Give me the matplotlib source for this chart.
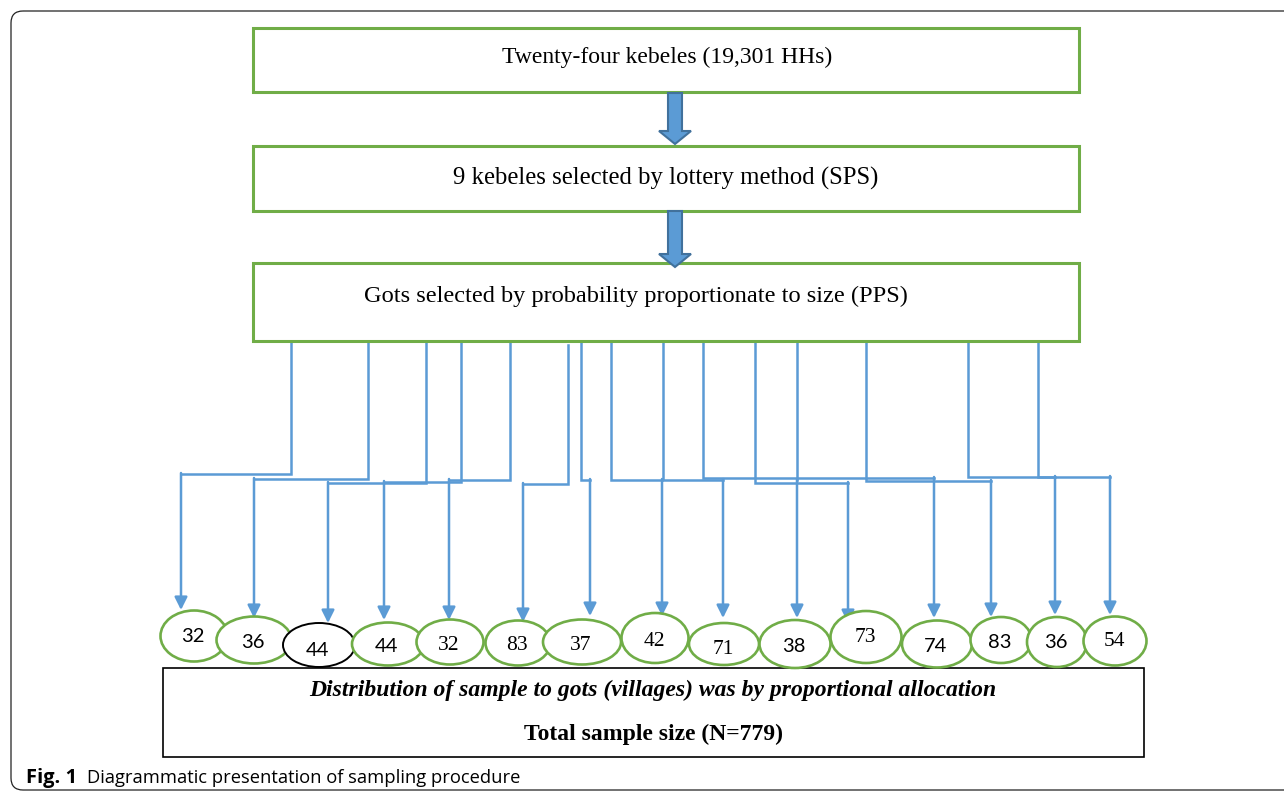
import matplotlib.pyplot as plt
from matplotlib.patches import Rectangle, Ellipse, FancyBboxPatch, Polygon

# flow steps
steps = ['Twenty-four kebeles (19,301 HHs)',
         '9 kebeles selected by lottery method (SPS)',
         'Gots selected by probability proportionate to size (PPS)']
# sample allocated to each got
samples = [32, 36, 44, 44, 32, 83, 37, 42, 71, 38, 73, 74, 83, 36, 54]
sans_label = [1, 1, 1, 1, 0, 0, 0, 0, 0, 1, 0, 1, 1, 1, 0]
bottom_lines = ['Distribution of sample to gots (villages) was by proportional allocation',
                'Total sample size (N=779)']
caption_bold = 'Fig. 1'
caption_text = 'Diagrammatic presentation of sampling procedure'

# layout (pixel units)
cx = [194, 254, 319, 388, 450, 518, 582, 655, 724, 795, 866, 937, 1001, 1057, 1115]
cy = [636, 640, 645, 644, 642, 643, 642, 638, 644, 644, 637, 644, 640, 642, 641]
cw = [67, 75, 72, 72, 67, 65, 78, 67, 70, 71, 71, 70, 61, 60, 63]
ch = [51, 47, 44, 43, 45, 45, 45, 50, 42, 48, 52, 47, 46, 50, 49]
ly = [637, 642, 650, 647, 645, 645, 646, 641, 649, 646, 638, 646, 643, 643, 642]
src_x = [291, 368, 426, 461, 510, 568, 581, 611, 663, 703, 755, 797, 866, 968, 1038]
src_y = [337, 337, 341, 341, 337, 345, 337, 337, 337, 337, 341, 337, 341, 341, 341]
elbow_y = [474, 479, 483, 482, 480, 484, 480, 480, 480, 478, 483, 480, 481, 477, 477]
tgt_x = [181, 254, 328, 384, 449, 523, 590, 662, 723, 934, 848, 797, 991, 1055, 1110]
tip_y = [610, 618, 623, 620, 620, 622, 616, 616, 618, 618, 623, 618, 617, 615, 615]

green = '#70AD47'
blue = '#5B9BD5'

fig = plt.figure(figsize=(12.84, 7.97), dpi=100)
ax = fig.add_axes([0, 0, 1, 1])
ax.set_xlim(0, 1284)
ax.set_ylim(797, 0)
ax.axis('off')

# outer frame
ax.add_patch(FancyBboxPatch((11, 11), 1300, 779, boxstyle='round,pad=0,rounding_size=12',
                            fc='none', ec='#222222', lw=0.9))

# step boxes
box_y = [(28, 92), (146, 211), (263, 341)]
text_pos = [(667, 57), (666, 178), (636, 296)]
text_size = [17, 17.8, 17.6]
for (y0, y1), (tx, ty), fs, s in zip(box_y, text_pos, text_size, steps):
    ax.add_patch(Rectangle((253, y0), 826, y1 - y0, fc='white', ec=green, lw=2.2, zorder=2))
    ax.text(tx, ty, s, ha='center', va='center', fontsize=fs,
            family='Liberation Serif', zorder=3)

# block arrows between boxes
for y0, y1 in [(93, 144), (211, 267)]:
    hy = y1 - 13
    pts = [(668, y0), (682, y0), (682, hy), (691, hy), (675, y1), (659, hy), (668, hy)]
    ax.add_patch(Polygon(pts, closed=True, fc=blue, ec='#41719C', lw=1.5, zorder=4))

# connectors
for i in range(len(samples)):
    xs = [src_x[i], src_x[i], tgt_x[i]]
    ys = [src_y[i], elbow_y[i], elbow_y[i]]
    ax.plot(xs, ys, color=blue, lw=1.8, solid_joinstyle='miter', zorder=1)
    ax.annotate('', xy=(tgt_x[i], tip_y[i]), xytext=(tgt_x[i], elbow_y[i] - 1),
                arrowprops=dict(arrowstyle='-|>', color=blue, lw=1.8,
                                mutation_scale=19, shrinkA=0, shrinkB=0), zorder=1)

# got circles
for i, n in enumerate(samples):
    ec = 'black' if i == 2 else green
    ax.add_patch(Ellipse((cx[i], cy[i]), cw[i], ch[i], fc='white', ec=ec,
                         lw=1.4 if i == 2 else 1.9, zorder=2))
    fam = 'Lato' if sans_label[i] else 'Liberation Serif'
    ax.text(cx[i] - 1, ly[i], str(n), ha='center', va='center',
            fontsize=14.5 if sans_label[i] else 15.5, family=fam, zorder=3)

# bottom box
ax.add_patch(Rectangle((163, 668), 981, 89, fc='white', ec='black', lw=1.2, zorder=1))
ax.text(653, 690, bottom_lines[0], ha='center', va='center', fontsize=17,
        family='Liberation Serif', weight='bold', style='italic', zorder=3)
ax.text(653, 734, bottom_lines[1], ha='center', va='center', fontsize=17,
        family='Liberation Serif', weight='bold', zorder=3)

# caption
ax.text(26, 778, caption_bold, ha='left', va='center', fontsize=14.5,
        family='Open Sans', weight='bold')
ax.text(87, 778, caption_text, ha='left', va='center', fontsize=13.2,
        family='Open Sans')

fig.savefig('out.png', dpi=100)
